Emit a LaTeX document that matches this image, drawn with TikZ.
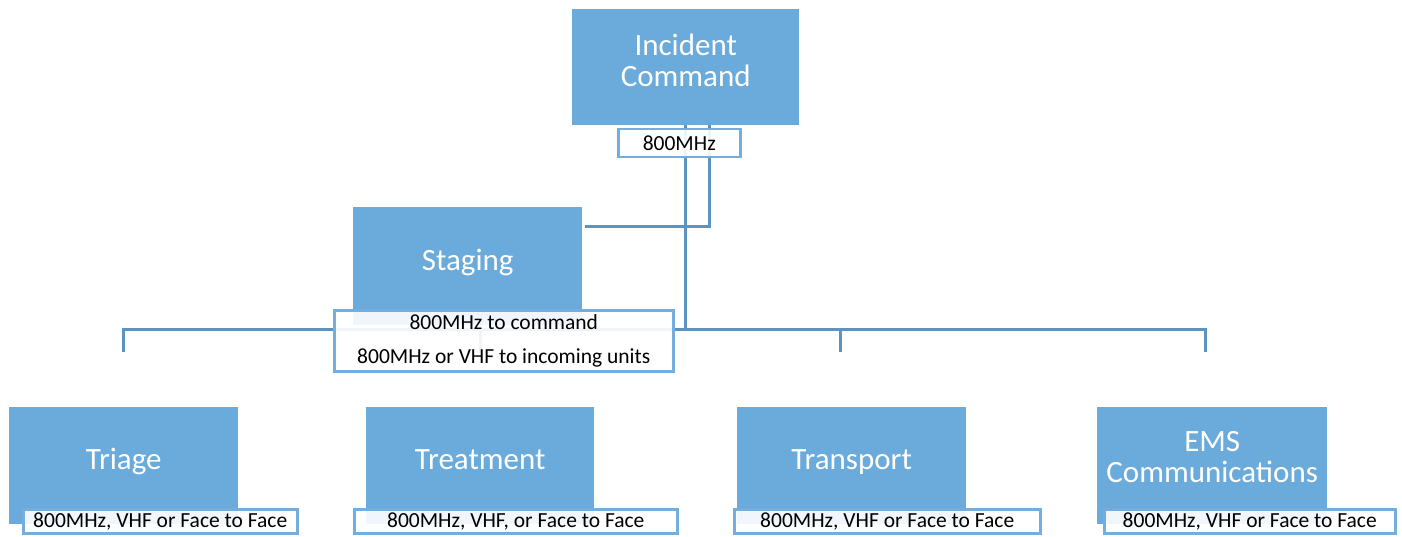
\documentclass[tikz,border=0pt]{standalone}
\usepackage{fontspec}
\setmainfont{Carlito}
\definecolor{boxblue}{HTML}{6AABDB}
\definecolor{linkblue}{HTML}{5B93C1}
\definecolor{labelblue}{HTML}{74AEDE}
\begin{document}
\begin{tikzpicture}[x=1pt,y=-1pt,
  box/.style={fill=boxblue, draw=none, anchor=north west, inner sep=0pt, minimum height=117pt, minimum width=229pt},
  boxtext/.style={text=white, font=\fontsize{31}{31}\selectfont, align=center, inner sep=0pt},
  onetext/.style={boxtext, text height=20pt, text depth=0pt},
  lab/.style={draw=labelblue, line width=2.5pt, fill=white, fill opacity=0.9, text opacity=1, anchor=north west, inner sep=0pt, minimum height=24pt, font=\fontsize{21.5}{25}\selectfont},
  conn/.style={draw=linkblue, line width=3pt}]
\useasboundingbox (0,0) rectangle (1402,537);
% junction / free-end coordinates
\coordinate (bus) at (686,329);
\coordinate (stj) at (709,227);
\coordinate (d1) at (123,352);
\coordinate (d2) at (480,352);
\coordinate (d3) at (840,352);
\coordinate (d4) at (1205,352);
% boxes
\node[box, minimum width=227pt, minimum height=116pt] (ic) at (572,9) {};
\node[box, minimum height=118pt] (staging) at (353,207) {};
\node[box] (triage) at (9,407) {};
\node[box, minimum width=228pt] (treat) at (366,407) {};
\node[box] (transp) at (737,407) {};
\node[box, minimum width=230pt] (ems) at (1097,407) {};
% connectors
\draw[conn] (ic.south) -- (ic.south |- bus);
\draw[conn] (ic.south -| stj) -- (stj) -- ([xshift=3pt]stj -| staging.east);
\draw[conn] (d1) -- (d1 |- bus) -- (d4 |- bus) -- (d4);
\draw[conn] (d2 |- bus) -- (d2);
\draw[conn] (d3 |- bus) -- (d3);
% box texts
\node[boxtext] (ict) at ([yshift=6.5pt]ic.center) {Incident\\Command};
\node[onetext] (stt) at ([yshift=6pt]staging.center) {Staging};
\node[onetext] (trit) at ([yshift=6pt]triage.center) {Triage};
\node[onetext] (tret) at ([yshift=6pt]treat.center) {Treatment};
\node[onetext] (trpt) at ([yshift=6pt]transp.center) {Transport};
\node[boxtext] (emst) at ([yshift=8.5pt]ems.center) {EMS\\Communications};
% labels
\node[lab, minimum width=122pt, minimum height=28pt] (icl) at (617,128) {800MHz};
\node[lab, minimum width=339pt, minimum height=61pt, align=center, font=\fontsize{21.5}{34}\selectfont] (stl) at (333,309) {800MHz to command\\800MHz or VHF to incoming units};
\node[lab, minimum width=274pt] (tril) at (22,508) {800MHz, VHF or Face to Face};
\node[lab, minimum width=323pt] (trel) at (353,508) {800MHz, VHF, or Face to Face};
\node[lab, minimum width=306pt] (trpl) at (733,508) {800MHz, VHF or Face to Face};
\node[lab, minimum width=291pt] (emsl) at (1103,508) {800MHz, VHF or Face to Face};
\end{tikzpicture}
\end{document}
